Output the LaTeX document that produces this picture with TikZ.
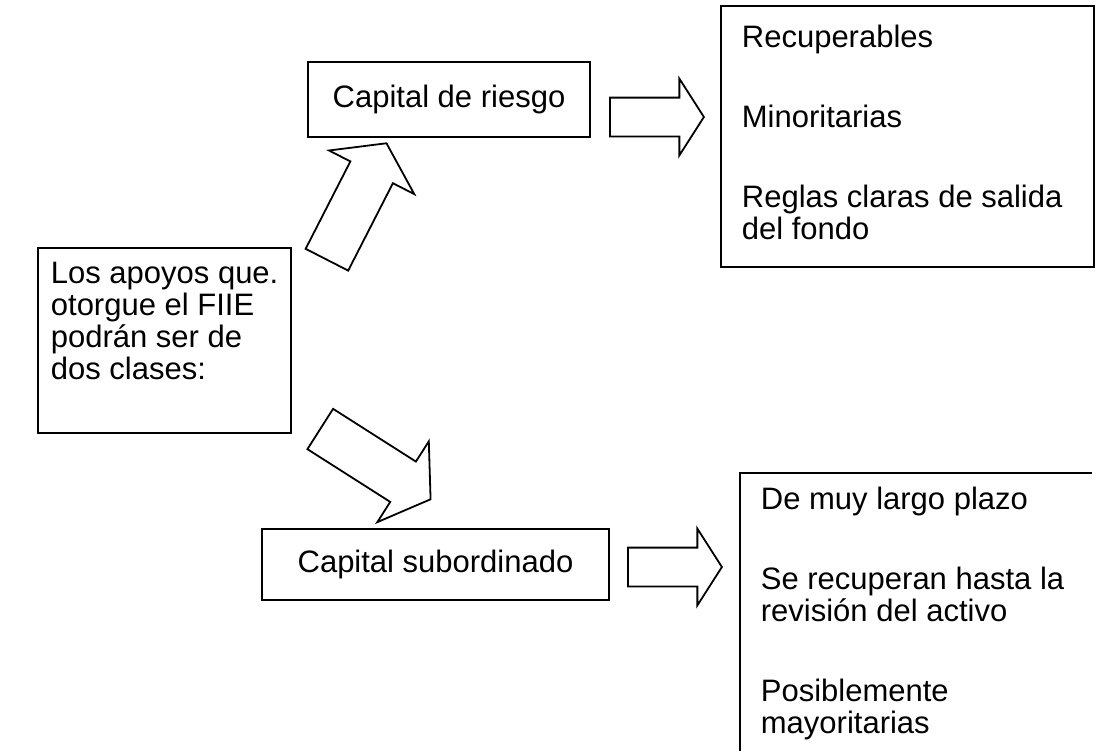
\documentclass[tikz,border=0pt]{standalone}
\usepackage{fontspec}
\setmainfont{Liberation Sans}
\usetikzlibrary{shapes.arrows}

\begin{document}
\begin{tikzpicture}[
    x=0.5pt, y=-0.5pt,
    line width=0.9pt,
    every node/.style={font=\fontsize{15.5}{16}\selectfont},
    box/.style={rectangle, draw, inner sep=0pt},
    txt/.style={anchor=north west, align=left, inner sep=0pt},
    fatarrow/.style={single arrow, draw, inner xsep=0pt, minimum width=0pt, anchor=tail},
    diagarrow/.style={fatarrow, inner ysep=11.5pt, minimum height=65.4pt, single arrow head extend=12pt, single arrow tip angle=111.5},
    sidearrow/.style={fatarrow, inner ysep=9.25pt, minimum height=47pt, single arrow head extend=9.5pt, single arrow tip angle=114.8}
]
\useasboundingbox (0,0) rectangle (1107,751);

% Left box
\node[box, minimum width=126.5pt, minimum height=92.5pt] (apoyos) at (164.5,340.5) {};
\node[txt] (apoyostxt) at (50,261) {Los apoyos que.\\otorgue el FIIE\\podrán ser de\\dos clases:};

% Middle boxes
\node[box, minimum width=141pt, minimum height=37.5pt] (riesgo) at (449,99.5) {Capital de riesgo};
\node[box, minimum width=173.5pt, minimum height=35.5pt] (subord) at (435.5,564.5) {Capital subordinado};

% Right boxes
\node[box, minimum width=186.5pt, minimum height=130.5pt] (rasgos1) at (907.5,136.5) {};
\node[txt] (rasgos1txt) at (741,24) {Recuperables\\[24pt]Minoritarias\\[24pt]Reglas claras de salida\\del fondo};

\coordinate (r2ne) at (1092,473);
\coordinate (r2nw) at (740,473);
\coordinate (r2sw) at (740,751);
\draw (r2ne) -- (r2nw) -- (r2sw);
\node[txt] (rasgos2txt) at (760,486) {De muy largo plazo\\[24pt]Se recuperan hasta la\\revisión del activo\\[24pt]Posiblemente\\mayoritarias};

% Block arrows
\node[diagarrow, rotate=62.9] (up) at (326.5,260.5) {};
\node[diagarrow, rotate=-32.5] (down) at (319.5,428.5) {};
\node[sidearrow] (right1) at (609,117) {};
\node[sidearrow] (right2) at (627,567) {};

\end{tikzpicture}
\end{document}
